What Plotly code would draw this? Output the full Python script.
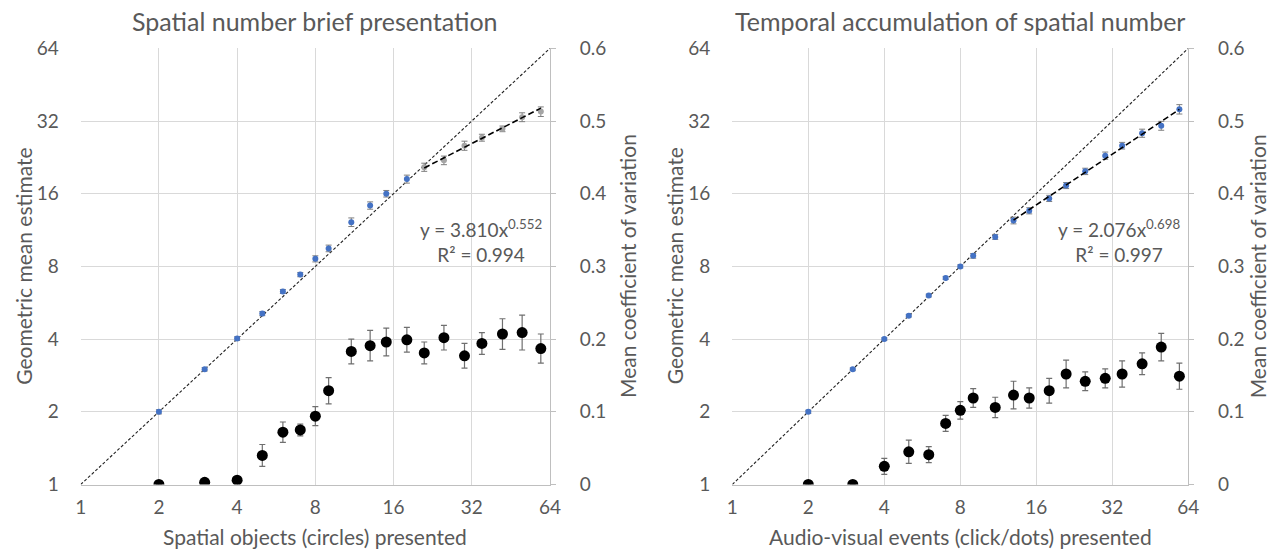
import plotly.graph_objects as go
import numpy as np

# ---------------- data ----------------
ticks = [1, 2, 4, 8, 16, 32, 64]
cv_ticks = [0, 0.1, 0.2, 0.3, 0.4, 0.5, 0.6]
cv_ticktext = ["0", "0.1", "0.2", "0.3", "0.4", "0.5", "0.6"]

# Left panel: spatial number brief presentation
sp_n = [2, 3, 4, 5, 6, 7, 8, 9, 11, 13, 15, 18, 21, 25, 30, 35, 42, 50, 59]
sp_est = [2.0, 3.0, 4.02, 5.1, 6.3, 7.4, 8.6, 9.5, 12.2, 14.3, 16.0, 18.4,
          20.6, 22.0, 25.3, 27.3, 29.7, 33.2, 35.0]
sp_est_err = [0.04, 0.05, 0.07, 0.1, 0.12, 0.15, 0.25, 0.3, 0.5, 0.5, 0.5, 0.7,
              0.8, 0.9, 1.1, 0.9, 0.8, 1.4, 1.6]
sp_cv = [0.0, 0.003, 0.006, 0.040, 0.072, 0.075, 0.094, 0.129, 0.183, 0.191,
         0.196, 0.199, 0.181, 0.202, 0.177, 0.194, 0.207, 0.209, 0.187]
sp_cv_err = [0, 0, 0, 0.015, 0.014, 0.008, 0.013, 0.018, 0.017, 0.021,
             0.019, 0.017, 0.015, 0.017, 0.017, 0.015, 0.021, 0.024, 0.020]
sp_a, sp_b, sp_r2 = 3.810, 0.552, 0.994
sp_fit_range = [21, 59]

# Right panel: temporal accumulation
tm_n = [2, 3, 4, 5, 6, 7, 8, 9, 11, 13, 15, 18, 21, 25, 30, 35, 42, 50, 59]
tm_est = [2.0, 3.0, 4.0, 5.0, 6.06, 7.17, 8.0, 8.85, 10.6, 12.4, 13.6, 15.3,
          17.3, 19.8, 23.0, 25.3, 28.5, 30.6, 35.8]
tm_est_err = [0.03, 0.04, 0.05, 0.06, 0.08, 0.1, 0.12, 0.2, 0.25, 0.4, 0.4, 0.45,
              0.5, 0.6, 0.8, 0.8, 1.1, 1.3, 1.6]
tm_cv = [0.0, 0.0, 0.025, 0.045, 0.041, 0.084, 0.102, 0.119, 0.106, 0.123,
         0.119, 0.129, 0.152, 0.142, 0.146, 0.152, 0.166, 0.189, 0.149]
tm_cv_err = [0, 0, 0.011, 0.016, 0.011, 0.011, 0.012, 0.013, 0.014, 0.019,
             0.014, 0.017, 0.019, 0.013, 0.013, 0.018, 0.015, 0.019, 0.018]
tm_a, tm_b, tm_r2 = 2.076, 0.698, 0.997
tm_fit_range = [13, 59]

titles = ["Spatial number brief presentation", "Temporal accumulation of spatial number"]
xtitles = ["Spatial objects (circles) presented", "Audio-visual events (click/dots) presented"]
ytitle = "Geometric mean estimate"
y2title = "Mean coefficient of variation"

# ---------------- style ----------------
FONT = "Lato"
TXT = "#595959"
GRID = "#D9D9D9"
AXL = "#BFBFBF"
BLUE = "#4472C4"
GREY = "#A5A5A5"
W, H = 1272, 557


def px_x(p):
    return p / W


def px_y(p):
    return 1 - p / H


fig = go.Figure()

panels = [
    dict(n=sp_n, est=sp_est, err=sp_est_err, cv=sp_cv, cverr=sp_cv_err, a=sp_a, b=sp_b, r2=sp_r2,
         fr=sp_fit_range, grey_from=sp_fit_range[0], x0=80.7, x1=550.0, y2off=77),
    dict(n=tm_n, est=tm_est, err=tm_est_err, cv=tm_cv, cverr=tm_cv_err, a=tm_a, b=tm_b, r2=tm_r2,
         fr=tm_fit_range, grey_from=None, x0=732.3, x1=1188.3, y2off=69),
]
ytop, ybot = 48.3, 484.5

layout = dict(
    width=W, height=H, margin=dict(l=0, r=0, t=0, b=0, pad=0, autoexpand=False),
    paper_bgcolor="white", plot_bgcolor="white", showlegend=False,
    font=dict(family=FONT, color=TXT, size=19),
    template="none",
)
annotations = []

for i, p in enumerate(panels):
    xa = "x" if i == 0 else "x2"
    ya = "y" if i == 0 else "y3"
    ya2 = "y2" if i == 0 else "y4"
    n = np.array(p["n"])
    est = np.array(p["est"])
    err = np.array(p["err"])
    # identity line (y = x)
    ident = np.array([ticks[0], ticks[-1]])
    fig.add_trace(go.Scatter(x=ident, y=ident, mode="lines", xaxis=xa, yaxis=ya,
                             line=dict(color="#202020", width=1.1, dash="3px,2px"),
                             hoverinfo="skip"))
    # estimates
    if p["grey_from"] is not None:
        blue_mask = n < p["grey_from"]
    else:
        blue_mask = np.ones_like(n, dtype=bool)
    fig.add_trace(go.Scatter(x=n[blue_mask], y=est[blue_mask], mode="markers", xaxis=xa, yaxis=ya,
                             marker=dict(color=BLUE, size=6),
                             error_y=dict(type="data", array=err[blue_mask], color="#7F7F7F",
                                          thickness=1, width=3)))
    if (~blue_mask).any():
        fig.add_trace(go.Scatter(x=n[~blue_mask], y=est[~blue_mask], mode="markers", xaxis=xa, yaxis=ya,
                                 marker=dict(color=GREY, size=6),
                                 error_y=dict(type="data", array=err[~blue_mask], color="#7F7F7F",
                                              thickness=1, width=3)))
    # power-law fit
    fx = np.geomspace(p["fr"][0], p["fr"][1], 60)
    fy = p["a"] * fx ** p["b"]
    fig.add_trace(go.Scatter(x=fx, y=fy, mode="lines", xaxis=xa, yaxis=ya,
                             line=dict(color="#000000", width=1.6, dash="6px,3px"),
                             hoverinfo="skip"))
    # CV points
    fig.add_trace(go.Scatter(x=n, y=p["cv"], mode="markers", xaxis=xa, yaxis=ya2,
                             marker=dict(color="#000000", size=11),
                             error_y=dict(type="data", array=p["cverr"], color="#6F6F6F",
                                          thickness=1.2, width=3)))

    xdom = [px_x(p["x0"]), px_x(p["x1"])]
    ydom = [px_y(ybot), px_y(ytop)]
    xkey = "xaxis" if i == 0 else "xaxis2"
    ykey = "yaxis" if i == 0 else "yaxis3"
    y2key = "yaxis2" if i == 0 else "yaxis4"
    layout[xkey] = dict(
        domain=xdom, anchor=ya, type="log", range=[0, np.log10(64)],
        tickvals=ticks, ticktext=[str(t) for t in ticks],
        showgrid=True, gridcolor=GRID, gridwidth=1,
        showline=True, linecolor=AXL, linewidth=1, mirror=False,
        ticks="", tickfont=dict(size=19, color=TXT, family=FONT), ticklabelstandoff=6,
        zeroline=False, automargin=False,
    )
    layout[ykey] = dict(
        domain=ydom, anchor=xa, type="log", range=[0, np.log10(64)],
        tickvals=ticks, ticktext=[str(t) for t in ticks],
        showgrid=True, gridcolor=GRID, gridwidth=1, showline=False,
        ticks="", tickfont=dict(size=19, color=TXT, family=FONT), ticklabelstandoff=21,
        zeroline=False, automargin=False,
    )
    layout[y2key] = dict(
        overlaying=ya, anchor=xa, side="right", range=[0, 0.6],
        tickvals=cv_ticks, ticktext=cv_ticktext,
        showgrid=False, showline=True, linecolor=AXL, linewidth=1,
        ticks="outside", ticklen=5, tickcolor=AXL,
        tickfont=dict(size=19, color=TXT, family=FONT), ticklabelstandoff=20,
        zeroline=False, automargin=False,
    )
    cx = (p["x0"] + p["x1"]) / 2
    annotations.append(dict(text=titles[i], x=px_x(cx), y=px_y(21), xref="paper", yref="paper",
                            showarrow=False, font=dict(size=25, color=TXT, family=FONT),
                            xanchor="center", yanchor="middle"))
    annotations.append(dict(text=xtitles[i], x=px_x(cx), y=px_y(536), xref="paper", yref="paper",
                            showarrow=False, font=dict(size=21, color=TXT, family=FONT),
                            xanchor="center", yanchor="middle"))
    annotations.append(dict(text=ytitle, x=px_x(p["x0"] - 58), y=px_y(266),
                            xref="paper", yref="paper", textangle=-90,
                            showarrow=False, font=dict(size=21, color=TXT, family=FONT),
                            xanchor="center", yanchor="middle"))
    annotations.append(dict(text=y2title, x=px_x(p["x1"] + p["y2off"]), y=px_y(266),
                            xref="paper", yref="paper", textangle=-90,
                            showarrow=False, font=dict(size=21, color=TXT, family=FONT),
                            xanchor="center", yanchor="middle"))
    eq = f"y = {p['a']:.3f}x<sup>{p['b']:.3f}</sup><br>R² = {p['r2']:.3f}"
    annotations.append(dict(text=eq, x=px_x(p["x1"] - 6), y=px_y(241), xref="paper", yref="paper",
                            showarrow=False, align="center",
                            font=dict(size=19, color=TXT, family=FONT),
                            xanchor="right", yanchor="middle"))

layout["annotations"] = annotations
fig.update_layout(**layout)
fig.write_html("out.html")
